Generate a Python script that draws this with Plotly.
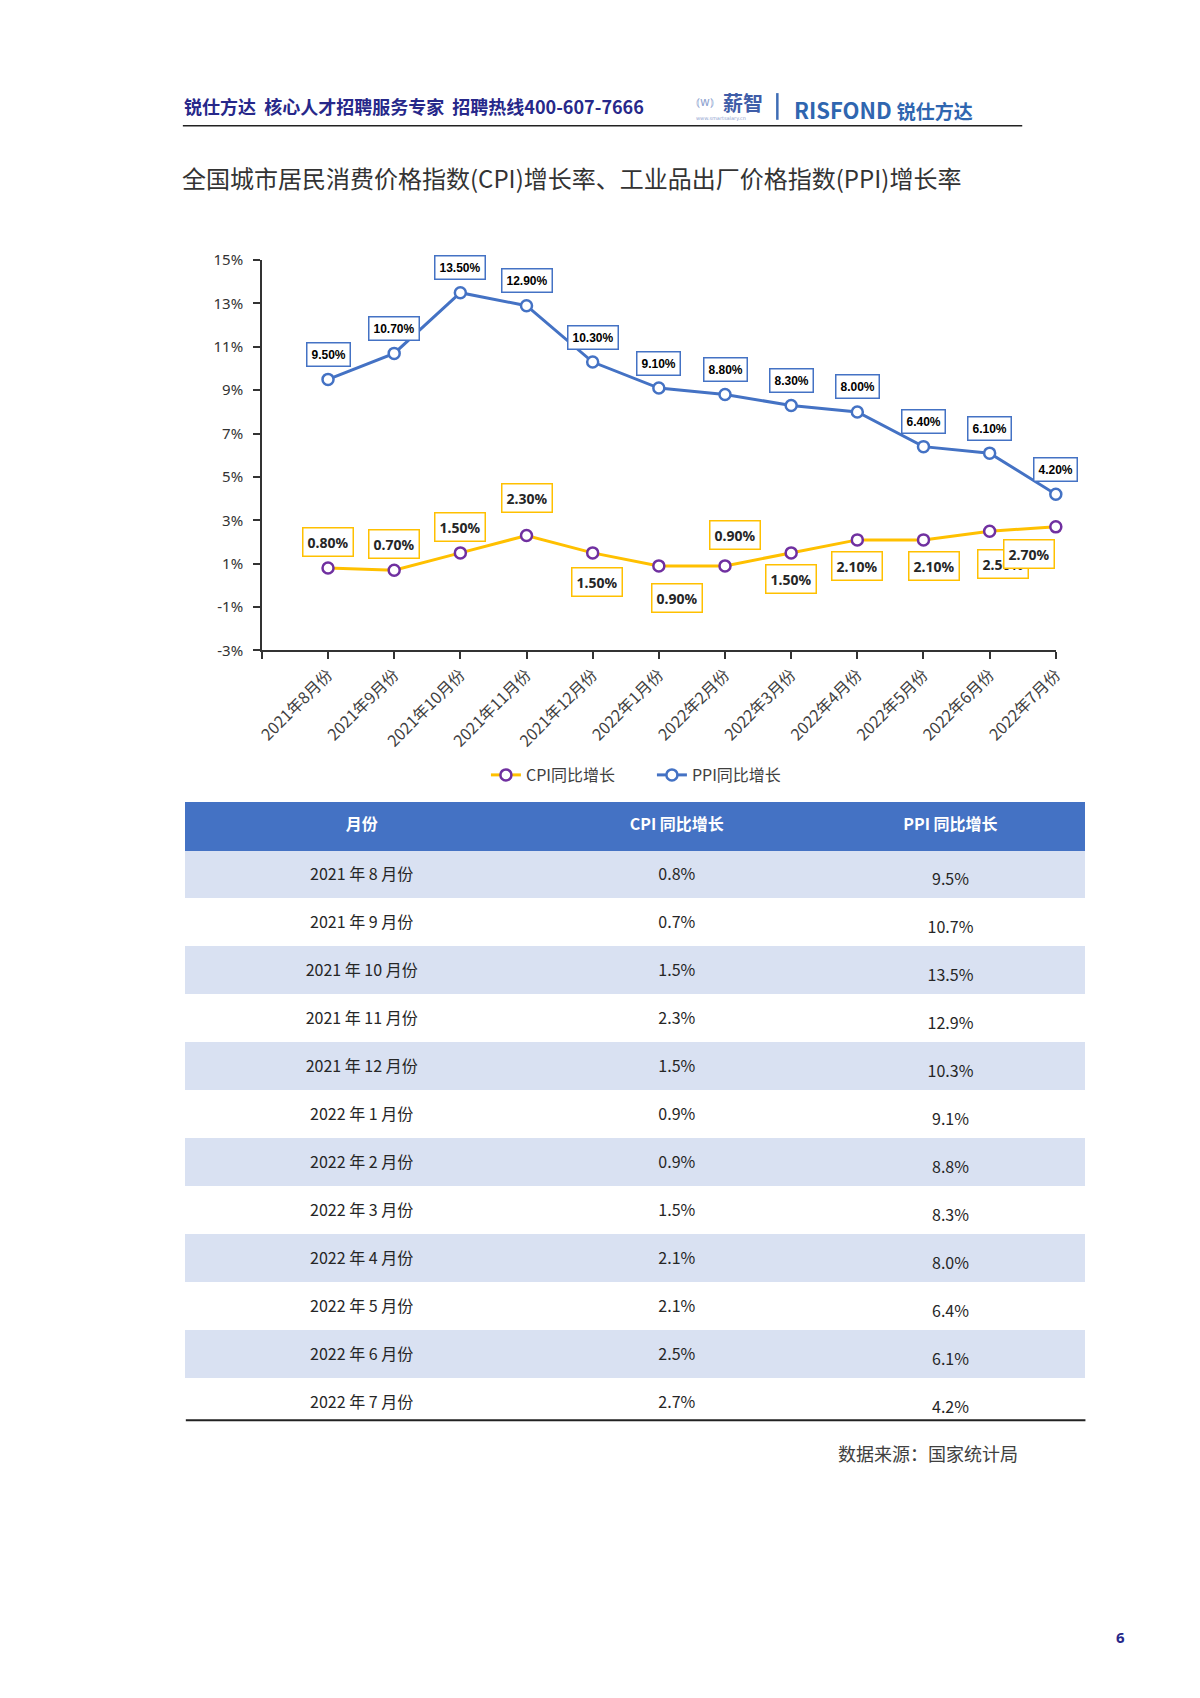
import plotly.graph_objects as go

# ---------------- data ----------------
months = ["2021年8月份", "2021年9月份", "2021年10月份", "2021年11月份", "2021年12月份",
          "2022年1月份", "2022年2月份", "2022年3月份", "2022年4月份", "2022年5月份",
          "2022年6月份", "2022年7月份"]
cpi = [0.8, 0.7, 1.5, 2.3, 1.5, 0.9, 0.9, 1.5, 2.1, 2.1, 2.5, 2.7]
ppi = [9.5, 10.7, 13.5, 12.9, 10.3, 9.1, 8.8, 8.3, 8.0, 6.4, 6.1, 4.2]
y_ticks = [-3, -1, 1, 3, 5, 7, 9, 11, 13, 15]

table_months = ["2021 年 8 月份", "2021 年 9 月份", "2021 年 10 月份", "2021 年 11 月份",
                "2021 年 12 月份", "2022 年 1 月份", "2022 年 2 月份", "2022 年 3 月份",
                "2022 年 4 月份", "2022 年 5 月份", "2022 年 6 月份", "2022 年 7 月份"]
table_header = ["月份", "CPI 同比增长", "PPI 同比增长"]

# label offsets (pixels) for the CPI data labels
cpi_dx = [0, 0, 0, 0, 4, 18, 10, 0, 0, 11, 13, -27]
cpi_dy = [26, 26, 26, 38, -29, -32, 31, -26, -26, -26, -33, -27]

W, H = 1200, 1698
def px(x):
    return x / W
def py(y):
    return 1 - y / H

BLUE = "#4472C4"
GOLD = "#FFC000"
PURPLE = "#7030A0"
TXT = "#404040"
CJK = "Noto Sans CJK SC"

xs = list(range(1, len(months) + 1))

fig = go.Figure()
fig.add_trace(go.Scatter(
    x=xs, y=cpi, name="CPI同比增长", mode="lines+markers", cliponaxis=False,
    line=dict(color=GOLD, width=3),
    marker=dict(symbol="circle", size=11, color="white", line=dict(color=PURPLE, width=2.5)),
))
fig.add_trace(go.Scatter(
    x=xs, y=ppi, name="PPI同比增长", mode="lines+markers", cliponaxis=False,
    line=dict(color=BLUE, width=3),
    marker=dict(symbol="circle", size=11, color="white", line=dict(color=BLUE, width=2.5)),
))

annotations = []
for x, v in zip(xs, ppi):
    annotations.append(dict(
        x=x, y=v, xref="x", yref="y", text="<b>%.2f%%</b>" % v, showarrow=False,
        yshift=25, font=dict(family="Liberation Sans", size=12, color="black"),
        bgcolor="white", bordercolor=BLUE, borderwidth=1.5, borderpad=4,
    ))
for x, v, dx, dy in zip(xs, cpi, cpi_dx, cpi_dy):
    annotations.append(dict(
        x=x, y=v, xref="x", yref="y", text="<b>%.2f%%</b>" % v, showarrow=False,
        xshift=dx, yshift=dy, font=dict(family="Noto Sans", size=14, color="#262626"),
        bgcolor="white", bordercolor=GOLD, borderwidth=1.5, borderpad=4,
    ))

# page header / titles
annotations += [
    dict(x=px(170), y=py(88), xref="paper", yref="paper", xanchor="left", yanchor="middle",
         text="<b>锐仕方达  核心人才招聘服务专家  招聘热线400-607-7666</b>", showarrow=False,
         font=dict(family=CJK, size=18, color="#27288A")),
    dict(x=px(716), y=py(84), xref="paper", yref="paper", xanchor="left", yanchor="middle",
         text="<b>薪智</b>", showarrow=False, font=dict(family=CJK, size=20, color="#3F5DA8")),
    dict(x=px(689), y=py(84), xref="paper", yref="paper", xanchor="left", yanchor="middle",
         text="⦅w⦆", showarrow=False, font=dict(family="DejaVu Sans", size=12, color="#8FA3D0")),
    dict(x=px(689), y=py(101), xref="paper", yref="paper", xanchor="left", yanchor="middle",
         text="www.smartsalary.cn", showarrow=False, font=dict(family="DejaVu Sans", size=5, color="#8FA3D0")),
    dict(x=px(788), y=py(91), xref="paper", yref="paper", xanchor="left", yanchor="middle",
         text="<b>RISFOND</b> <b><span style='font-size:19px'>锐仕方达</span></b>", showarrow=False,
         font=dict(family=CJK, size=22, color="#2F66B0")),
    dict(x=px(168), y=py(160), xref="paper", yref="paper", xanchor="left", yanchor="middle",
         text="全国城市居民消费价格指数(CPI)增长率、工业品出厂价格指数(PPI)增长率", showarrow=False,
         font=dict(family=CJK, size=24, color="#333333")),
    dict(x=px(1019), y=py(1451), xref="paper", yref="paper", xanchor="right", yanchor="middle",
         text="数据来源：国家统计局", showarrow=False, font=dict(family=CJK, size=18, color=TXT)),
    dict(x=px(1121), y=py(1637), xref="paper", yref="paper", xanchor="center", yanchor="middle",
         text="<b>6</b>", showarrow=False, font=dict(family="Open Sans", size=15, color="#27288A")),
]

shapes = [
    dict(type="line", xref="paper", yref="paper", x0=px(171), x1=px(1021), y0=py(108), y1=py(108),
         line=dict(color="#222222", width=1.5)),
    dict(type="line", xref="paper", yref="paper", x0=px(773), x1=px(773), y0=py(75), y1=py(102),
         line=dict(color="#3F6DB5", width=2.5)),
    dict(type="line", xref="paper", yref="paper", x0=px(174), x1=px(1085), y0=py(1418), y1=py(1418),
         line=dict(color="#222222", width=2)),
]

# ---------------- table ----------------
n = len(table_months)
row_fill = ["#D9E1F2" if i % 2 == 0 else "white" for i in range(n)]
TX0, TX1, TY0, TY1 = 174, 1085, 793, 1418
HEAD_H, ROW_H = 48, 48
col_w = [356, 282, 272]
blank = [""] * n
clear = "rgba(0,0,0,0)"

# background table: header + row fills
fig.add_trace(go.Table(
    domain=dict(x=[px(TX0), px(TX1)], y=[py(TY1), py(TY0)]),
    columnwidth=col_w,
    header=dict(values=["<b>%s</b>" % h for h in table_header], height=HEAD_H,
                fill_color=BLUE, line=dict(color=BLUE, width=1),
                font=dict(family=CJK, size=16, color="white"), align="center"),
    cells=dict(values=[blank, blank, blank], height=ROW_H,
               fill_color=[row_fill] * 3, line=dict(color=[row_fill] * 3, width=1),
               font=dict(family=CJK, size=16, color="#262626"), align="center"),
))

def text_layer(cols, shift):
    # transparent table whose invisible header pushes the text down to the row centres
    return go.Table(
        domain=dict(x=[px(TX0), px(TX1)], y=[py(TY1 + 40), py(TY0)]),
        columnwidth=col_w,
        header=dict(values=["", "", ""], height=HEAD_H + shift,
                    fill_color=clear, line=dict(color=clear, width=0),
                    font=dict(family=CJK, size=16, color=clear)),
        cells=dict(values=cols, height=ROW_H,
                   fill_color=clear, line=dict(color=clear, width=0),
                   font=dict(family=CJK, size=16, color="#262626"), align="center"),
    )

fig.add_trace(text_layer([table_months, ["%.1f%%" % v for v in cpi], blank], 9))
fig.add_trace(text_layer([blank, blank, ["%.1f%%" % v for v in ppi]], 14))

fig.update_layout(
    width=W, height=H, margin=dict(l=0, r=0, t=0, b=0),
    paper_bgcolor="white", plot_bgcolor="white",
    showlegend=True,
    legend=dict(orientation="h", x=px(646), y=py(765), xanchor="center", yanchor="middle",
                font=dict(family=CJK, size=16, color=TXT), bgcolor="rgba(0,0,0,0)",
                entrywidth=121, entrywidthmode="pixels"),
    xaxis=dict(domain=[px(251), px(1055)], range=[0, 12], tickmode="array",
               tickvals=list(range(0, 13)), ticktext=[""] + months, tickangle=-45,
               ticks="outside", ticklen=7, tickwidth=1.5, tickcolor="#333333",
               showline=True, linecolor="#333333", linewidth=1.5, showgrid=False, zeroline=False,
               tickfont=dict(family=CJK, size=16, color=TXT)),
    yaxis=dict(domain=[py(639), py(244)], range=[-3, 15], tickmode="array",
               tickvals=y_ticks, ticktext=["%d%%" % t for t in y_ticks],
               ticks="outside", ticklen=7, tickwidth=1.5, tickcolor="#333333", ticklabelstandoff=7,
               showline=True, linecolor="#333333", linewidth=1.5, showgrid=False, zeroline=False,
               tickfont=dict(family="Noto Sans", size=15, color="#333333")),
    annotations=annotations, shapes=shapes,
)

fig.write_html("out.html")
